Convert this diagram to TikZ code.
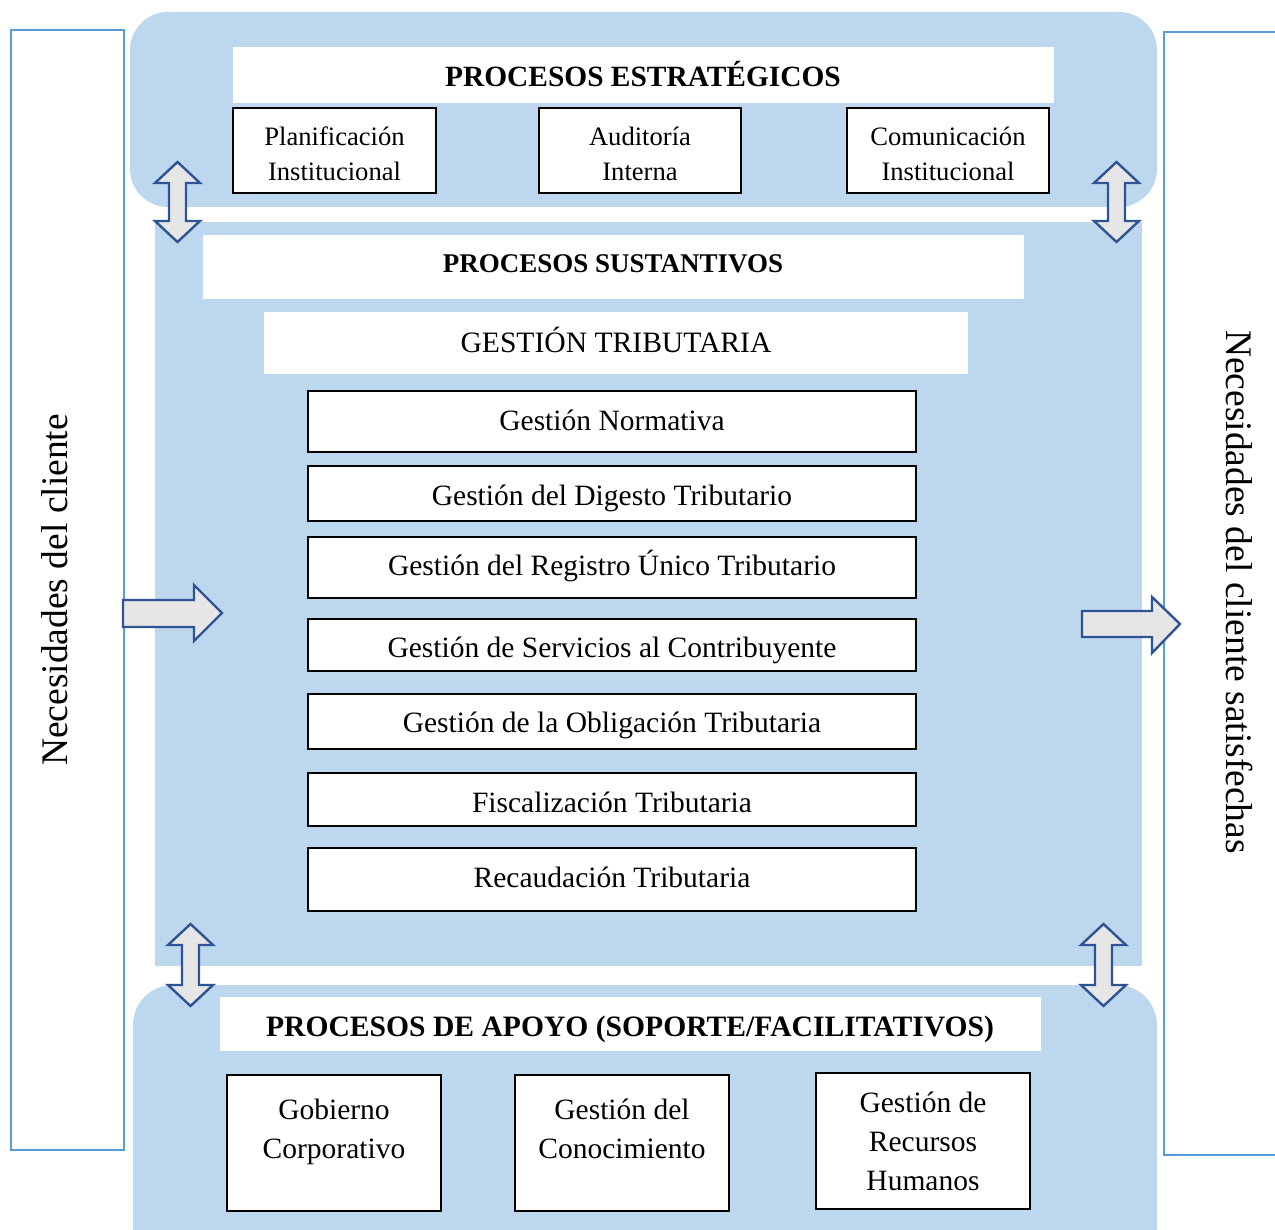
\documentclass[tikz,border=0pt]{standalone}
\usepackage{fontspec}
\setmainfont{Liberation Serif}
\definecolor{panelblue}{HTML}{BDD7EE}
\definecolor{edgeblue}{HTML}{5B9BD5}
\definecolor{tipblue}{HTML}{2F5496}
\definecolor{tipgray}{HTML}{E7E6E6}
\tikzset{
  panel/.style={fill=panelblue, draw=none},
  band/.style={fill=white, draw=none, inner sep=0pt},
  procbox/.style={draw=black, line width=2.8pt, fill=white, inner sep=0pt, align=center},
  sidebox/.style={draw=edgeblue, line width=2.8pt},
  blockarrow/.style={draw=tipblue, fill=tipgray, line width=2.4pt, line join=miter},
  txt/.style={inner sep=0pt, align=center},
  fsmall/.style={font=\fontsize{26.6}{35}\selectfont},
  fmid/.style={font=\fontsize{29.5}{39}\selectfont},
  fhead/.style={font=\fontsize{29.6}{34}\selectfont\bfseries},
  fside/.style={font=\fontsize{37.5}{44}\selectfont}
}
% vertical two-headed block arrow: centre x, top y, bottom y
\newcommand\dblvarrow[3]{%
  \draw[blockarrow] (#1,#2) -- (#1+22.5,#2+21) -- (#1+8.5,#2+21) -- (#1+8.5,#3-21)
    -- (#1+22.5,#3-21) -- (#1,#3) -- (#1-22.5,#3-21) -- (#1-8.5,#3-21)
    -- (#1-8.5,#2+21) -- (#1-22.5,#2+21) -- cycle;}
\begin{document}
\begin{tikzpicture}[x=1pt, y=-1pt]
\useasboundingbox (0,0) rectangle (1275,1230);

% side frames
\draw[sidebox] (11,30) rectangle (124,1150);
\draw[sidebox] (1300,32) -- (1164,32) -- (1164,1155) -- (1300,1155);
\node[fside, rotate=90] (needsin) at (55,590) {Necesidades del cliente};
\node[fside, rotate=-90] (needsout) at (1240,592) {Necesidades del cliente satisfechas};

% background panels
\fill[panel, rounded corners=38pt] (130,12) rectangle (1157,207);
\fill[panel] (155,222) rectangle (1142,966);
\fill[panel] (133,1260) {[rounded corners=40pt] -- (133,985) -- (1157,985)} -- (1157,1260) -- cycle;

% strategic processes
\node[band, minimum width=821pt, minimum height=56pt] (estband) at (643.5,75) {};
\node[txt, font=\fontsize{29.4}{34}\selectfont\bfseries] (esttitle) at (643,74) {PROCESOS ESTRATÉGICOS};
\node[procbox, minimum width=203pt, minimum height=85pt] (plan) at (334.5,150.5) {};
\node[txt, fsmall] (plantext) at (334.5,153.5) {Planificación\\Institucional};
\node[procbox, minimum width=202pt, minimum height=85pt] (audit) at (640,150.5) {};
\node[txt, fsmall] (audittext) at (640,153.5) {Auditoría\\Interna};
\node[procbox, minimum width=202pt, minimum height=85pt] (comm) at (948,150.5) {};
\node[txt, fsmall] (commtext) at (948,153.5) {Comunicación\\Institucional};

% core processes
\node[band, minimum width=821pt, minimum height=64pt] (susband) at (613.5,267) {};
\node[txt, font=\fontsize{27}{32}\selectfont\bfseries] (sustitle) at (613,263.5) {PROCESOS SUSTANTIVOS};
\node[band, minimum width=704pt, minimum height=62pt] (gtband) at (616,343) {};
\node[txt, font=\fontsize{29.6}{34}\selectfont] (gttitle) at (616,339.5) {GESTIÓN TRIBUTARIA};

\node[procbox, minimum width=608pt, minimum height=61pt] (g1) at (612,421.5) {};
\node[procbox, minimum width=608pt, minimum height=55pt] (g2) at (612,493.5) {};
\node[procbox, minimum width=608pt, minimum height=61pt] (g3) at (612,567.5) {};
\node[procbox, minimum width=608pt, minimum height=52pt] (g4) at (612,645) {};
\node[procbox, minimum width=608pt, minimum height=55pt] (g5) at (612,721.5) {};
\node[procbox, minimum width=608pt, minimum height=53pt] (g6) at (612,799.5) {};
\node[procbox, minimum width=608pt, minimum height=63pt] (g7) at (612,879.5) {};
\node[txt, fmid] (g1text) at (612,420) {Gestión Normativa};
\node[txt, fmid] (g2text) at (612,498) {Gestión del Digesto Tributario};
\node[txt, fmid] (g3text) at (612,566.5) {Gestión del Registro Único Tributario};
\node[txt, fmid] (g4text) at (612,650) {Gestión de Servicios al Contribuyente};
\node[txt, fmid] (g5text) at (612,725) {Gestión de la Obligación Tributaria};
\node[txt, fmid] (g6text) at (612,802.5) {Fiscalización Tributaria};
\node[txt, fmid] (g7text) at (612,877) {Recaudación Tributaria};

% support processes
\node[band, minimum width=821pt, minimum height=54pt] (apoband) at (630.5,1024) {};
\node[txt, fhead] (apotitle) at (630,1029) {PROCESOS DE APOYO (SOPORTE/FACILITATIVOS)};
\node[procbox, minimum width=214pt, minimum height=136pt] (gob) at (334,1143) {};
\node[txt, fmid] (gobtext) at (334,1132) {Gobierno\\Corporativo};
\node[procbox, minimum width=214pt, minimum height=136pt] (con) at (622,1143) {};
\node[txt, fmid] (context) at (622,1129) {Gestión del\\Conocimiento};
\node[procbox, minimum width=214pt, minimum height=136pt] (rrhh) at (923,1141) {};
\node[txt, fmid] (rrhhtext) at (923,1141) {Gestión de\\Recursos\\Humanos};

% flow arrows
\dblvarrow{177.5}{162}{242}
\dblvarrow{1116.5}{162}{242}
\dblvarrow{190.5}{924}{1006}
\dblvarrow{1103.5}{924}{1006}
\draw[blockarrow] (123,600) -- (194,600) -- (194,585) -- (222,613) -- (194,641) -- (194,627) -- (123,627) -- cycle;
\draw[blockarrow] (1082,611) -- (1152,611) -- (1152,597) -- (1180,624) -- (1152,653) -- (1152,637) -- (1082,637) -- cycle;
\end{tikzpicture}
\end{document}
